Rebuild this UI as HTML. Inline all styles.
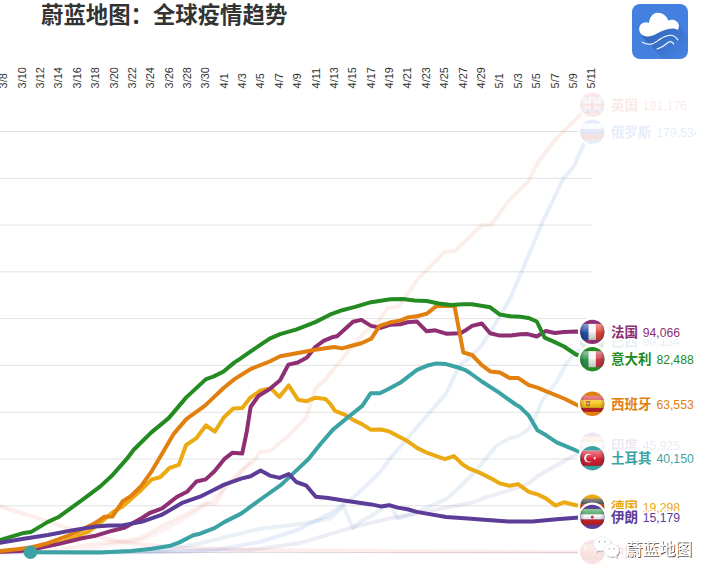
<!DOCTYPE html>
<html><head><meta charset="utf-8"><title>chart</title>
<style>html,body{margin:0;padding:0;background:#fff;}body{width:716px;height:579px;overflow:hidden;font-family:"Liberation Sans",sans-serif;}svg{display:block}text{font-family:"Liberation Sans",sans-serif}</style></head><body>
<svg width="716" height="579" viewBox="0 0 716 579">
<defs>
<clipPath id="fc"><circle cx="0" cy="0" r="12"/></clipPath>
<linearGradient id="gloss" x1="0" y1="0" x2="0" y2="1"><stop offset="0" stop-color="#fff" stop-opacity="0.45"/><stop offset="0.5" stop-color="#fff" stop-opacity="0.08"/><stop offset="0.5" stop-color="#000" stop-opacity="0.02"/><stop offset="1" stop-color="#000" stop-opacity="0.22"/></linearGradient>
<linearGradient id="hsh" x1="0" y1="0" x2="1" y2="0"><stop offset="0" stop-color="#000" stop-opacity="0.22"/><stop offset="0.18" stop-color="#000" stop-opacity="0"/><stop offset="0.82" stop-color="#000" stop-opacity="0"/><stop offset="1" stop-color="#000" stop-opacity="0.22"/></linearGradient>
<linearGradient id="lsh" gradientUnits="userSpaceOnUse" x1="652" y1="28" x2="680" y2="56"><stop offset="0" stop-color="#1c3f86" stop-opacity="0.36"/><stop offset="0.25" stop-color="#1c3f86" stop-opacity="0.3"/><stop offset="1" stop-color="#1c3f86" stop-opacity="0"/></linearGradient>
<clipPath id="lc"><rect x="632" y="4" width="56" height="55" rx="8" ry="8"/></clipPath>
<clipPath id="labclip"><rect x="0" y="0" width="696" height="579"/></clipPath>
<filter id="b1" x="-10%" y="-30%" width="120%" height="160%"><feGaussianBlur stdDeviation="0.35"/></filter>
</defs>
<rect width="716" height="579" fill="#fff"/>
<rect x="0" y="131.00" width="592" height="1" fill="#e2e2e2"/>
<rect x="0" y="177.78" width="592" height="1" fill="#e2e2e2"/>
<rect x="0" y="224.56" width="592" height="1" fill="#e2e2e2"/>
<rect x="0" y="271.34" width="592" height="1" fill="#e2e2e2"/>
<rect x="0" y="318.12" width="592" height="1" fill="#e2e2e2"/>
<rect x="0" y="364.90" width="592" height="1" fill="#e2e2e2"/>
<rect x="0" y="411.68" width="592" height="1" fill="#e2e2e2"/>
<rect x="0" y="458.46" width="592" height="1" fill="#e2e2e2"/>
<rect x="0" y="505.24" width="592" height="1" fill="#e2e2e2"/>
<rect x="0" y="552.02" width="592" height="1" fill="#e2e2e2"/>
<text transform="translate(7.2,88.4) rotate(-90) scale(1.09,1)" font-size="10" fill="#303030">3/8</text>
<text transform="translate(25.6,88.4) rotate(-90) scale(1.09,1)" font-size="10" fill="#303030">3/10</text>
<text transform="translate(44.0,88.4) rotate(-90) scale(1.09,1)" font-size="10" fill="#303030">3/12</text>
<text transform="translate(62.3,88.4) rotate(-90) scale(1.09,1)" font-size="10" fill="#303030">3/14</text>
<text transform="translate(80.7,88.4) rotate(-90) scale(1.09,1)" font-size="10" fill="#303030">3/16</text>
<text transform="translate(99.1,88.4) rotate(-90) scale(1.09,1)" font-size="10" fill="#303030">3/18</text>
<text transform="translate(117.5,88.4) rotate(-90) scale(1.09,1)" font-size="10" fill="#303030">3/20</text>
<text transform="translate(135.8,88.4) rotate(-90) scale(1.09,1)" font-size="10" fill="#303030">3/22</text>
<text transform="translate(154.2,88.4) rotate(-90) scale(1.09,1)" font-size="10" fill="#303030">3/24</text>
<text transform="translate(172.6,88.4) rotate(-90) scale(1.09,1)" font-size="10" fill="#303030">3/26</text>
<text transform="translate(190.9,88.4) rotate(-90) scale(1.09,1)" font-size="10" fill="#303030">3/28</text>
<text transform="translate(209.3,88.4) rotate(-90) scale(1.09,1)" font-size="10" fill="#303030">3/30</text>
<text transform="translate(227.7,88.4) rotate(-90) scale(1.09,1)" font-size="10" fill="#303030">4/1</text>
<text transform="translate(246.1,88.4) rotate(-90) scale(1.09,1)" font-size="10" fill="#303030">4/3</text>
<text transform="translate(264.4,88.4) rotate(-90) scale(1.09,1)" font-size="10" fill="#303030">4/5</text>
<text transform="translate(282.8,88.4) rotate(-90) scale(1.09,1)" font-size="10" fill="#303030">4/7</text>
<text transform="translate(301.2,88.4) rotate(-90) scale(1.09,1)" font-size="10" fill="#303030">4/9</text>
<text transform="translate(319.6,88.4) rotate(-90) scale(1.09,1)" font-size="10" fill="#303030">4/11</text>
<text transform="translate(337.9,88.4) rotate(-90) scale(1.09,1)" font-size="10" fill="#303030">4/13</text>
<text transform="translate(356.3,88.4) rotate(-90) scale(1.09,1)" font-size="10" fill="#303030">4/15</text>
<text transform="translate(374.7,88.4) rotate(-90) scale(1.09,1)" font-size="10" fill="#303030">4/17</text>
<text transform="translate(393.1,88.4) rotate(-90) scale(1.09,1)" font-size="10" fill="#303030">4/19</text>
<text transform="translate(411.4,88.4) rotate(-90) scale(1.09,1)" font-size="10" fill="#303030">4/21</text>
<text transform="translate(429.8,88.4) rotate(-90) scale(1.09,1)" font-size="10" fill="#303030">4/23</text>
<text transform="translate(448.2,88.4) rotate(-90) scale(1.09,1)" font-size="10" fill="#303030">4/25</text>
<text transform="translate(466.6,88.4) rotate(-90) scale(1.09,1)" font-size="10" fill="#303030">4/27</text>
<text transform="translate(484.9,88.4) rotate(-90) scale(1.09,1)" font-size="10" fill="#303030">4/29</text>
<text transform="translate(503.3,88.4) rotate(-90) scale(1.09,1)" font-size="10" fill="#303030">5/1</text>
<text transform="translate(521.7,88.4) rotate(-90) scale(1.09,1)" font-size="10" fill="#303030">5/3</text>
<text transform="translate(540.1,88.4) rotate(-90) scale(1.09,1)" font-size="10" fill="#303030">5/5</text>
<text transform="translate(558.5,88.4) rotate(-90) scale(1.09,1)" font-size="10" fill="#303030">5/7</text>
<text transform="translate(576.8,88.4) rotate(-90) scale(1.09,1)" font-size="10" fill="#303030">5/9</text>
<text transform="translate(595.2,88.4) rotate(-90) scale(1.09,1)" font-size="10" fill="#303030">5/11</text>
<polyline points="-5.0,505.0 0.0,506.5 34.0,516.8 68.4,528.7 102.6,538.1 120.0,541.5 141.5,544.5 183.0,547.7 220.0,549.0 300.0,550.5 400.0,551.3 500.0,551.7 592.0,551.9" fill="none" stroke="#e0302a" stroke-width="4" stroke-linejoin="round" stroke-linecap="round" opacity="0.09"/>
<polyline points="80.0,551.0 110.0,545.0 140.0,540.9 164.2,530.0 188.4,516.7 212.5,499.8 236.0,478.0 250.0,462.0" fill="none" stroke="#d06a5a" stroke-width="4" stroke-linejoin="round" stroke-linecap="round" opacity="0.07"/>
<polyline points="-5.0,552.2 150.0,552.2 250.0,550.0 300.0,543.0 330.0,534.2 354.2,526.9 389.2,518.5 417.0,513.6 446.1,507.6 460.6,504.8 472.1,502.8 484.2,497.9 508.4,490.7 528.9,483.4 537.4,476.2 556.7,465.3 576.0,454.4 592.0,444.7" fill="none" stroke="#7a4fa0" stroke-width="4" stroke-linejoin="round" stroke-linecap="round" opacity="0.11"/>
<polyline points="-5.0,552.2 80.0,552.2 160.0,551.0 200.4,543.3 230.0,536.0 260.0,528.8 300.0,524.0 330.0,518.5 343.3,506.4 353.0,528.1 361.4,520.9 371.1,516.0 389.2,504.0 397.7,518.5 417.0,512.4 426.7,507.6 446.1,499.1 455.7,490.7 472.1,475.0 484.2,460.4 496.3,445.9 508.4,438.7 518.0,436.3 528.9,429.0 537.4,412.1 542.2,400.9 556.7,381.5 566.4,363.4 576.0,352.5 592.0,341.3" fill="none" stroke="#4a86b8" stroke-width="4" stroke-linejoin="round" stroke-linecap="round" opacity="0.12"/>
<polyline points="-5.0,552.2 100.0,552.2 180.0,551.5 220.0,549.0 260.0,542.0 300.0,529.0 330.0,513.6 354.2,496.7 371.1,481.0 380.8,471.3 390.4,458.0 407.4,438.7 426.7,415.7 436.4,404.8 446.1,393.6 460.0,364.6 470.0,357.4 481.8,345.3 499.9,316.3 510.8,296.9 523.3,267.7 541.5,224.2 563.2,178.9 574.1,166.2 585.0,140.8 592.0,132.1" fill="none" stroke="#3f78d8" stroke-width="4" stroke-linejoin="round" stroke-linecap="round" opacity="0.12"/>
<polyline points="40.0,552.0 60.0,550.0 82.0,545.8 100.0,543.6 120.0,541.5 140.0,538.5 164.2,525.2 188.4,513.1 205.3,503.4 215.0,504.6 224.6,487.7 241.5,470.8 253.6,461.1 260.7,451.4 270.0,451.0 289.7,434.9 306.3,417.3 311.4,400.7 315.6,388.3 324.9,380.0 340.0,361.5 361.4,335.6 378.4,321.1 388.0,307.8 398.9,306.6 407.4,294.5 418.1,278.6 445.3,251.4 454.4,251.4 481.6,225.3 490.7,225.3 508.8,200.6 528.8,180.7 537.8,162.5 556.0,139.0 581.4,113.6 592.0,104.8" fill="none" stroke="#dd5a3a" stroke-width="4" stroke-linejoin="round" stroke-linecap="round" opacity="0.1"/>
<polyline points="-5.0,552.0 30.0,549.5 60.0,543.0 88.9,531.3 100.0,523.0 112.4,512.5 122.8,506.3 141.5,489.7 151.8,479.4 160.1,477.3 169.4,468.0 178.8,464.9 186.0,445.2 196.7,437.8 206.0,425.3 214.8,431.6 223.8,417.5 233.4,408.4 242.3,408.0 250.4,397.6 260.7,390.4 271.1,388.3 279.3,397.0 288.6,385.4 298.0,399.7 306.6,401.2 315.6,397.7 325.3,398.9 330.0,403.6 335.0,410.8 344.0,414.3 354.0,420.4 362.4,424.4 370.8,429.7 380.8,429.5 389.2,431.4 407.4,441.1 417.0,447.9 426.7,452.7 436.4,456.1 444.8,459.2 454.0,456.1 463.0,464.8 470.0,468.9 481.8,473.7 491.4,478.6 499.9,483.4 509.6,485.8 518.0,484.1 528.9,491.9 537.4,494.3 545.8,498.4 555.5,505.7 564.0,502.3 576.0,505.2 592.0,506.8" fill="none" stroke="#ebaa12" stroke-width="4" stroke-linejoin="round" stroke-linecap="round"/>
<polyline points="30.5,552.2 100.0,552.6 131.1,550.9 151.8,548.8 170.5,545.7 178.8,542.6 193.3,535.3 200.0,533.7 214.5,528.1 224.2,522.1 241.1,513.6 260.4,499.5 281.4,484.6 296.7,470.1 308.5,459.0 320.9,443.5 333.2,429.4 347.7,417.5 362.2,405.9 370.6,393.3 379.8,393.3 388.0,389.3 400.1,382.8 417.0,369.9 426.7,365.8 436.4,363.4 446.1,364.1 458.1,367.5 464.8,369.8 470.0,373.0 481.8,381.5 498.7,392.4 515.6,404.5 520.4,407.3 528.9,415.7 537.4,430.2 545.8,435.1 556.7,442.3 566.4,446.4 578.5,451.5 592.0,458.2" fill="none" stroke="#3ba3a4" stroke-width="4" stroke-linejoin="round" stroke-linecap="round"/>
<polyline points="-5.0,552.0 20.0,551.0 37.6,548.4 58.1,544.1 82.0,538.2 95.7,535.7 100.0,534.4 112.4,530.7 124.9,527.6 141.5,518.2 149.7,513.0 162.2,508.4 176.7,497.0 187.0,491.8 196.4,481.5 205.7,479.4 214.5,471.3 224.2,459.2 232.6,452.7 242.2,453.6 246.8,431.4 250.6,407.0 258.3,396.0 269.7,389.0 280.1,380.2 288.4,364.6 297.7,362.5 307.0,357.4 315.3,347.0 323.6,340.8 332.0,337.3 337.0,336.2 344.5,329.6 353.0,321.8 361.4,319.9 371.1,325.9 380.8,327.9 390.4,324.7 400.1,324.2 407.4,322.3 417.0,321.6 426.7,331.3 435.2,330.3 446.1,333.7 460.6,333.2 464.8,330.8 472.1,325.9 481.8,323.5 490.2,333.2 499.9,335.6 510.8,335.6 520.4,334.2 527.7,334.1 536.8,336.5 545.8,331.0 554.9,333.0 564.0,332.0 576.0,331.5 592.0,331.9" fill="none" stroke="#8d2f72" stroke-width="4" stroke-linejoin="round" stroke-linecap="round"/>
<polyline points="-5.0,551.5 0.0,551.0 17.0,549.2 30.8,547.5 47.9,543.2 68.4,535.5 85.5,527.9 95.7,522.7 104.3,516.8 112.5,516.4 122.8,501.1 131.1,496.0 141.5,485.6 151.8,471.1 162.2,453.5 173.9,433.6 186.3,419.1 205.0,405.6 223.6,388.0 234.5,379.1 251.1,368.8 269.7,361.5 280.1,356.3 296.7,353.2 315.3,349.7 334.0,347.0 342.1,348.4 351.8,345.8 361.4,343.3 371.1,338.8 379.6,325.9 390.4,322.3 400.1,320.6 407.4,317.5 417.0,316.3 426.7,313.8 436.4,306.1 446.1,305.9 454.5,306.1 463.3,352.5 472.1,355.0 481.8,365.1 490.2,371.4 499.9,372.4 509.6,377.9 518.0,377.9 528.9,385.2 537.4,387.6 545.8,391.2 564.0,398.5 578.0,405.5 592.0,403.8" fill="none" stroke="#e1800f" stroke-width="4" stroke-linejoin="round" stroke-linecap="round"/>
<polyline points="-5.0,541.5 0.0,540.2 22.2,533.3 30.8,532.1 47.9,521.9 58.1,517.3 82.0,500.2 100.0,486.6 112.4,475.2 127.0,458.7 133.5,450.0 151.1,432.6 168.7,418.1 186.3,397.4 206.0,379.1 213.3,376.6 223.6,371.5 234.2,362.6 240.0,358.8 251.1,351.1 269.7,338.7 280.1,334.1 296.7,329.4 315.3,322.1 331.9,313.8 342.1,310.2 354.2,307.1 371.1,302.2 390.4,299.3 402.5,298.9 414.6,300.6 426.7,301.0 438.8,303.5 450.9,304.9 463.0,304.2 472.1,304.2 490.2,307.3 499.9,314.6 510.8,316.3 520.4,316.8 528.4,317.9 536.8,321.5 544.6,337.7 554.3,341.9 564.0,346.5 576.0,354.5 592.0,359.2" fill="none" stroke="#238b22" stroke-width="4" stroke-linejoin="round" stroke-linecap="round"/>
<polyline points="-5.0,543.7 0.0,542.9 22.2,539.0 47.9,535.0 71.8,530.4 95.7,526.5 109.4,525.6 120.7,525.6 141.5,521.9 162.2,514.6 182.9,502.6 200.0,496.7 212.1,490.7 224.2,484.6 241.1,478.6 250.6,476.2 260.6,470.4 270.8,475.9 279.6,477.9 288.8,474.0 296.3,482.0 306.4,485.7 315.8,496.8 328.1,498.0 342.1,500.3 354.2,502.0 371.1,504.4 380.8,506.4 389.2,505.2 397.7,507.6 407.4,509.3 417.0,511.9 426.7,513.6 446.1,517.0 468.0,518.5 484.2,519.7 508.4,521.6 532.5,521.4 556.7,519.2 576.0,517.7 592.0,516.7" fill="none" stroke="#5b3c96" stroke-width="4" stroke-linejoin="round" stroke-linecap="round"/>
<circle cx="30.5" cy="552.2" r="6.8" fill="#3ba3a4"/>
<g clip-path="url(#labclip)"><g opacity="0.13"><text x="611" y="557.2" font-size="13.5" font-weight="bold" fill="#e0302a" style="font-family:'Liberation Sans','Noto Sans CJK SC',sans-serif">中国</text><text transform="translate(642.8,557.2) scale(0.905,1)" font-size="13.5" fill="#e0302a">139</text></g></g><g transform="translate(592.3,552.2)"><circle r="14.4" fill="#fff"/><g opacity="0.13"><circle r="12.2" fill="#e0302a"/><g clip-path="url(#fc)"><rect x="-12" y="-8" width="24" height="16" fill="#de2a22"/><circle cx="-7" cy="-4" r="1.8" fill="#f7d21c"/><rect x="-12" y="-8" width="24" height="16" fill="url(#gloss)"/><rect x="-12" y="-8" width="24" height="16" fill="url(#hsh)"/></g></g></g>
<g clip-path="url(#labclip)"><g opacity="0.13"><text x="611" y="109.8" font-size="13.5" font-weight="bold" fill="#dd5a3a" style="font-family:'Liberation Sans','Noto Sans CJK SC',sans-serif">英国</text><text transform="translate(642.8,109.8) scale(0.905,1)" font-size="13.5" fill="#dd5a3a">191,176</text></g></g><g transform="translate(592.3,104.8)"><circle r="14.4" fill="#fff"/><g opacity="0.13"><circle r="12.2" fill="#dd5a3a"/><g clip-path="url(#fc)"><rect x="-12" y="-8" width="24" height="16" fill="#2a3f8f"/><path d="M-12 -8L12 8M12 -8L-12 8" stroke="#fff" stroke-width="3.2"/><path d="M-12 -8L12 8M12 -8L-12 8" stroke="#d8262c" stroke-width="1.1"/><path d="M0 -8V8M-12 0H12" stroke="#fff" stroke-width="5"/><path d="M0 -8V8M-12 0H12" stroke="#d8262c" stroke-width="3"/><rect x="-12" y="-8" width="24" height="16" fill="url(#gloss)"/><rect x="-12" y="-8" width="24" height="16" fill="url(#hsh)"/></g></g></g>
<g clip-path="url(#labclip)"><g opacity="0.13"><text x="611" y="136.6" font-size="13.5" font-weight="bold" fill="#3f78d8" style="font-family:'Liberation Sans','Noto Sans CJK SC',sans-serif">俄罗斯</text><text transform="translate(656.4,136.6) scale(0.905,1)" font-size="13.5" fill="#3f78d8">179,534</text></g></g><g transform="translate(592.3,131.6)"><circle r="14.4" fill="#fff"/><g opacity="0.13"><circle r="12.2" fill="#3f78d8"/><g clip-path="url(#fc)"><rect x="-12" y="-8.00" width="24" height="5.33" fill="#f4f4f4"/><rect x="-12" y="-2.67" width="24" height="5.33" fill="#2a45c8"/><rect x="-12" y="2.67" width="24" height="5.33" fill="#d8262c"/><rect x="-12" y="-8" width="24" height="16" fill="url(#gloss)"/><rect x="-12" y="-8" width="24" height="16" fill="url(#hsh)"/></g></g></g>
<g clip-path="url(#labclip)"><g opacity="0.13"><text x="611" y="346.3" font-size="13.5" font-weight="bold" fill="#4a86b8" style="font-family:'Liberation Sans','Noto Sans CJK SC',sans-serif">巴西</text><text transform="translate(642.8,346.3) scale(0.905,1)" font-size="13.5" fill="#4a86b8">90,134</text></g></g><g transform="translate(592.3,341.3)"><circle r="14.4" fill="#fff"/><g opacity="0.13"><circle r="12.2" fill="#4a86b8"/><g clip-path="url(#fc)"><rect x="-12" y="-8" width="24" height="16" fill="#2f9a49"/><path d="M-10 0L0 -6.4L10 0L0 6.4Z" fill="#f7d21c"/><circle r="3.4" fill="#2a3f8f"/><rect x="-12" y="-8" width="24" height="16" fill="url(#gloss)"/><rect x="-12" y="-8" width="24" height="16" fill="url(#hsh)"/></g></g></g>
<g clip-path="url(#labclip)"><g opacity="0.13"><text x="611" y="449.7" font-size="13.5" font-weight="bold" fill="#7a4fa0" style="font-family:'Liberation Sans','Noto Sans CJK SC',sans-serif">印度</text><text transform="translate(642.8,449.7) scale(0.905,1)" font-size="13.5" fill="#7a4fa0">45,925</text></g></g><g transform="translate(592.3,444.7)"><circle r="14.4" fill="#fff"/><g opacity="0.13"><circle r="12.2" fill="#7a4fa0"/><g clip-path="url(#fc)"><rect x="-12" y="-8.00" width="24" height="5.33" fill="#f59a2f"/><rect x="-12" y="-2.67" width="24" height="5.33" fill="#f6f6f6"/><rect x="-12" y="2.67" width="24" height="5.33" fill="#2f8a3a"/><circle r="2" fill="none" stroke="#2a3f8f" stroke-width="0.6"/><rect x="-12" y="-8" width="24" height="16" fill="url(#gloss)"/><rect x="-12" y="-8" width="24" height="16" fill="url(#hsh)"/></g></g></g>
<g clip-path="url(#labclip)"><g><text x="611" y="511.8" font-size="13.5" font-weight="bold" fill="#ebaa12" style="font-family:'Liberation Sans','Noto Sans CJK SC',sans-serif">德国</text><text transform="translate(642.8,511.8) scale(0.905,1)" font-size="13.5" fill="#ebaa12">19,298</text></g></g><g transform="translate(592.3,506.8)"><circle r="14.4" fill="#fff"/><g><circle r="12.2" fill="#ebaa12"/><g clip-path="url(#fc)"><rect x="-12" y="-8.00" width="24" height="5.33" fill="#2b2b2b"/><rect x="-12" y="-2.67" width="24" height="5.33" fill="#d8232a"/><rect x="-12" y="2.67" width="24" height="5.33" fill="#f5c518"/><rect x="-12" y="-8" width="24" height="16" fill="url(#gloss)"/><rect x="-12" y="-8" width="24" height="16" fill="url(#hsh)"/></g></g></g>
<g clip-path="url(#labclip)"><text x="611" y="521.9" font-size="13.5" font-weight="bold" fill="#fff" stroke="#fff" stroke-width="4" stroke-linejoin="round" style="font-family:'Liberation Sans','Noto Sans CJK SC',sans-serif">伊朗</text><text transform="translate(642.8,521.9) scale(0.905,1)" font-size="13.5" fill="#fff" stroke="#fff" stroke-width="4" stroke-linejoin="round">15,179</text><g><text x="611" y="521.9" font-size="13.5" font-weight="bold" fill="#5b3c96" style="font-family:'Liberation Sans','Noto Sans CJK SC',sans-serif">伊朗</text><text transform="translate(642.8,521.9) scale(0.905,1)" font-size="13.5" fill="#5b3c96">15,179</text></g></g><g transform="translate(592.3,516.9)"><circle r="14.4" fill="#fff"/><g><circle r="12.2" fill="#5b3c96"/><g clip-path="url(#fc)"><rect x="-12" y="-8.00" width="24" height="5.33" fill="#2f9a49"/><rect x="-12" y="-2.67" width="24" height="5.33" fill="#f6f6f6"/><rect x="-12" y="2.67" width="24" height="5.33" fill="#d8262c"/><circle cx="0" cy="0" r="1.5" fill="#d8262c"/><rect x="-12" y="-8" width="24" height="16" fill="url(#gloss)"/><rect x="-12" y="-8" width="24" height="16" fill="url(#hsh)"/></g></g></g>
<g clip-path="url(#labclip)"><text x="611" y="463.2" font-size="13.5" font-weight="bold" fill="#fff" stroke="#fff" stroke-width="4" stroke-linejoin="round" style="font-family:'Liberation Sans','Noto Sans CJK SC',sans-serif">土耳其</text><text transform="translate(656.4,463.2) scale(0.905,1)" font-size="13.5" fill="#fff" stroke="#fff" stroke-width="4" stroke-linejoin="round">40,150</text><g><text x="611" y="463.2" font-size="13.5" font-weight="bold" fill="#3ba3a4" style="font-family:'Liberation Sans','Noto Sans CJK SC',sans-serif">土耳其</text><text transform="translate(656.4,463.2) scale(0.905,1)" font-size="13.5" fill="#3ba3a4">40,150</text></g></g><g transform="translate(592.3,458.2)"><circle r="14.4" fill="#fff"/><g><circle r="12.2" fill="#3ba3a4"/><g clip-path="url(#fc)"><rect x="-12" y="-7.5" width="24" height="15" fill="#dc2238"/><circle cx="-3.8" cy="0" r="4.4" fill="#fff"/><circle cx="-2.5" cy="0" r="3.6" fill="#dc2238"/><path d="M0 -1.5L0.35 -0.48L1.43 -0.46L0.57 0.18L0.88 1.21L0 0.6L-0.88 1.21L-0.57 0.18L-1.43 -0.46L-0.35 -0.48Z" fill="#fff" transform="translate(2.4,0) scale(1.25) rotate(-18)"/><rect x="-12" y="-8" width="24" height="16" fill="url(#gloss)"/><rect x="-12" y="-8" width="24" height="16" fill="url(#hsh)"/></g></g></g>
<g clip-path="url(#labclip)"><text x="611" y="408.8" font-size="13.5" font-weight="bold" fill="#fff" stroke="#fff" stroke-width="4" stroke-linejoin="round" style="font-family:'Liberation Sans','Noto Sans CJK SC',sans-serif">西班牙</text><text transform="translate(656.4,408.8) scale(0.905,1)" font-size="13.5" fill="#fff" stroke="#fff" stroke-width="4" stroke-linejoin="round">63,553</text><g><text x="611" y="408.8" font-size="13.5" font-weight="bold" fill="#e1800f" style="font-family:'Liberation Sans','Noto Sans CJK SC',sans-serif">西班牙</text><text transform="translate(656.4,408.8) scale(0.905,1)" font-size="13.5" fill="#e1800f">63,553</text></g></g><g transform="translate(592.3,403.8)"><circle r="14.4" fill="#fff"/><g><circle r="12.2" fill="#e1800f"/><g clip-path="url(#fc)"><rect x="-12" y="-8.00" width="24" height="4.10" fill="#d2303a"/><rect x="-12" y="-3.90" width="24" height="8.00" fill="#f7c61c"/><rect x="-12" y="4.10" width="24" height="3.90" fill="#cf2432"/><rect x="-6" y="-2.4" width="3.6" height="4.6" rx="1.2" fill="#b8583a"/><rect x="-6.6" y="-2.9" width="4.8" height="1.2" rx="0.5" fill="#c8442c"/><rect x="-5" y="-1" width="1.600" height="2" fill="#e8c080"/><rect x="-12" y="-8" width="24" height="16" fill="url(#gloss)"/><rect x="-12" y="-8" width="24" height="16" fill="url(#hsh)"/></g></g></g>
<g clip-path="url(#labclip)"><text x="611" y="364.2" font-size="13.5" font-weight="bold" fill="#fff" stroke="#fff" stroke-width="4" stroke-linejoin="round" style="font-family:'Liberation Sans','Noto Sans CJK SC',sans-serif">意大利</text><text transform="translate(656.4,364.2) scale(0.905,1)" font-size="13.5" fill="#fff" stroke="#fff" stroke-width="4" stroke-linejoin="round">82,488</text><g><text x="611" y="364.2" font-size="13.5" font-weight="bold" fill="#238b22" style="font-family:'Liberation Sans','Noto Sans CJK SC',sans-serif">意大利</text><text transform="translate(656.4,364.2) scale(0.905,1)" font-size="13.5" fill="#238b22">82,488</text></g></g><g transform="translate(592.3,359.2)"><circle r="14.4" fill="#fff"/><g><circle r="12.2" fill="#238b22"/><g clip-path="url(#fc)"><rect x="-12" y="-8" width="8.4" height="16" fill="#2e9a54"/><rect x="-3.8" y="-8" width="7.6" height="16" fill="#f4f4f4"/><rect x="3.6" y="-8" width="8.4" height="16" fill="#cf3b4a"/><rect x="-12" y="-8" width="24" height="16" fill="url(#gloss)"/><rect x="-12" y="-8" width="24" height="16" fill="url(#hsh)"/></g></g></g>
<g clip-path="url(#labclip)"><text x="611" y="336.9" font-size="13.5" font-weight="bold" fill="#fff" stroke="#fff" stroke-width="4" stroke-linejoin="round" style="font-family:'Liberation Sans','Noto Sans CJK SC',sans-serif">法国</text><text transform="translate(642.8,336.9) scale(0.905,1)" font-size="13.5" fill="#fff" stroke="#fff" stroke-width="4" stroke-linejoin="round">94,066</text><g><text x="611" y="336.9" font-size="13.5" font-weight="bold" fill="#8d2f72" style="font-family:'Liberation Sans','Noto Sans CJK SC',sans-serif">法国</text><text transform="translate(642.8,336.9) scale(0.905,1)" font-size="13.5" fill="#8d2f72">94,066</text></g></g><g transform="translate(592.3,331.9)"><circle r="14.4" fill="#fff"/><g><circle r="12.2" fill="#8d2f72"/><g clip-path="url(#fc)"><rect x="-12" y="-8" width="8.4" height="16" fill="#1f55a8"/><rect x="-3.8" y="-8" width="7.6" height="16" fill="#f4f4f4"/><rect x="3.6" y="-8" width="8.4" height="16" fill="#e0483a"/><rect x="-12" y="-8" width="24" height="16" fill="url(#gloss)"/><rect x="-12" y="-8" width="24" height="16" fill="url(#hsh)"/></g></g></g>
<text x="41" y="22.5" font-size="22.4" font-weight="bold" fill="#333" style="font-family:'Liberation Sans','Noto Sans CJK SC',sans-serif">蔚蓝地图：全球疫情趋势</text>
<g clip-path="url(#lc)"><rect x="632" y="4" width="56" height="55" fill="#4380df"/>
<path d="M641.5 34 L678.5 26 L720 67.5 L720 112 L717 112 L642 37Z" fill="url(#lsh)"/>
</g>
<path d="M640.5 33.2 C638.6 30.5 638.8 26.5 641 24.3 C643 22.2 646.4 21.6 649 23 C649.5 17 653 12.8 657.5 12.7 C662.5 12.6 667 15.8 668.3 20.8 C670.5 19.3 673.8 19.3 676 21 C678.8 23 680 26.5 677.8 29.9 C674.5 28 671 28.3 668.3 29 C664.5 30 662 31 659.9 32 C657 33.5 655 34.8 652.6 35.6 C650 36.6 647.5 36.900 645.4 36.3 C643 35.6 641.6 34.7 640.5 33.2Z" fill="#fff"/>
<path d="M642.1 42.1 C645 43.8 648.5 44.6 651.4 44.1 C654.5 43.5 657.3 41 659.9 39.3 C663 37.3 666.5 35.6 669.5 35.3 C673 35 676 37 677.8 39.9" fill="none" stroke="#fff" stroke-width="1.1" stroke-linecap="round"/>
<path d="M656.9 48.9 C659.5 48 661.5 47 663.5 45.9 C666 44.5 667.5 42.3 669.5 41.7 C671.5 41.2 673 42.5 673.8 44.1" fill="none" stroke="#fff" stroke-width="1.1" stroke-linecap="round"/>
<g>
<path d="M602.2 536.6c-4.800 0-8.700 3.2-8.700 7.200 0 2.200 1.200 4.200 3.200 5.500l-0.800 2.800 3.100-1.700c1 0.300 2.100 0.400 3.200 0.400 4.800 0 8.700-3.200 8.700-7.100s-3.900-7.100-8.700-7.100z" fill="#9a9a9a" transform="translate(0.800,0.800)" filter="url(#b1)"/><path d="M602.2 536.6c-4.800 0-8.700 3.2-8.700 7.200 0 2.200 1.200 4.200 3.200 5.500l-0.800 2.800 3.100-1.700c1 0.300 2.100 0.400 3.200 0.400 4.800 0 8.700-3.200 8.700-7.100s-3.900-7.100-8.700-7.100z" fill="#fff" stroke="#e4e4e4" stroke-width="0.5"/>
<path d="M611.6 543.9c-4.300 0-7.800 2.900-7.800 6.500s3.500 6.500 7.800 6.500c0.900 0 1.800-0.100 2.600-0.400l2.800 1.700-0.800-2.600c1.900-1.200 3.100-3.100 3.100-5.200 0-3.600-3.500-6.500-7.700-6.500z" fill="#8a8a8a" transform="translate(0.800,0.800)" filter="url(#b1)"/><path d="M611.6 543.9c-4.300 0-7.800 2.900-7.800 6.500s3.500 6.500 7.800 6.500c0.900 0 1.800-0.100 2.600-0.400l2.800 1.700-0.800-2.600c1.900-1.200 3.100-3.100 3.100-5.200 0-3.600-3.500-6.500-7.700-6.500z" fill="#fff" stroke="#e4e4e4" stroke-width="0.5"/>
<g fill="#9a9a9a"><circle cx="599.4" cy="541.8" r="0.8"/><circle cx="604.8" cy="541.8" r="0.8"/><circle cx="609.2" cy="548.9" r="0.7"/><circle cx="614" cy="548.9" r="0.7"/></g>
<text x="626" y="554.7" font-size="16.5" fill="#3c3c3c" transform="translate(1.1,1.1)" filter="url(#b1)" style="font-family:'Liberation Sans','Noto Sans CJK SC',sans-serif">蔚蓝地图</text>
<text x="626" y="554.7" font-size="16.5" fill="#fff" stroke="#fff" stroke-width="0.3" style="font-family:'Liberation Sans','Noto Sans CJK SC',sans-serif">蔚蓝地图</text>
</g>
</svg></body></html>
